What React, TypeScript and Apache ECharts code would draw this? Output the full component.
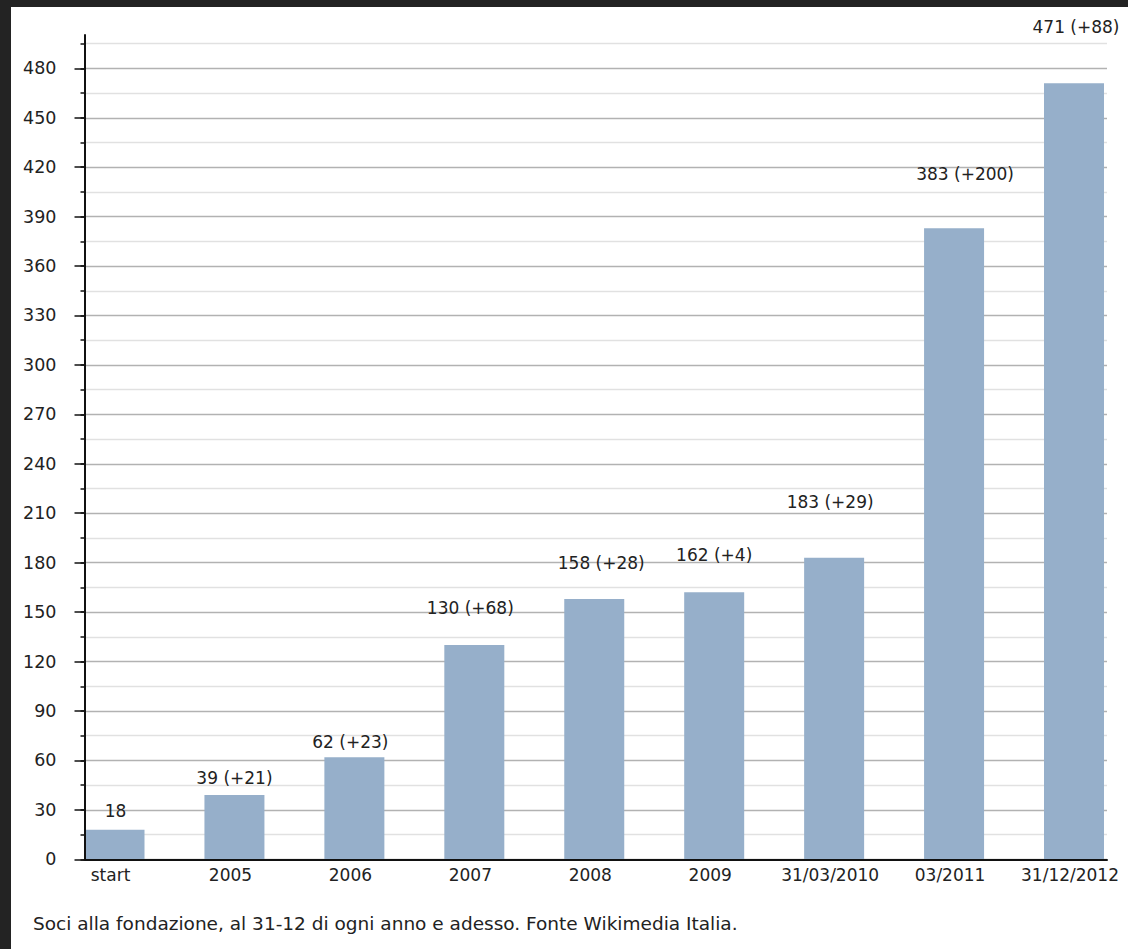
import React, { useEffect, useRef } from 'react';
import * as echarts from 'echarts';

const categories = ['start', '2005', '2006', '2007', '2008', '2009', '31/03/2010', '03/2011', '31/12/2012'];
const members = [18, 39, 62, 130, 158, 162, 183, 383, 471];
const increments: (number | null)[] = [null, 21, 23, 68, 28, 4, 29, 200, 88];
const footerText = 'Soci alla fondazione, al 31-12 di ogni anno e adesso. Fonte Wikimedia Italia.';

// label placement tweaks (pixels), styling only
const labelOffsets: [number, number][] = [
  [1, -5], [0, -4], [-4, -2], [-4, -24], [7, -22], [0, -24], [-4, -42], [11, -41], [2, -43],
];

export default function App() {
  const ref = useRef<HTMLDivElement>(null);
  useEffect(() => {
    document.body.style.margin = '0';
    const chart = echarts.init(ref.current!, null, { renderer: 'svg' });
    const font = 'DejaVu Sans';
    const textColor = '#222';
    const bottom = 89.7;
    const common = { left: 73.5, right: 21, bottom, outerBoundsMode: 'none' };
    const hiddenX = (gi: number) => ({ gridIndex: gi, type: 'value', min: 0, max: 1, show: false });
    const labels = members.map((v, i) => (increments[i] == null ? `${v}` : `${v} (+${increments[i]})`));

    const option: any = {
      animation: false,
      backgroundColor: '#ffffff',
      grid: [
        { ...common, top: 28 },
        { ...common, top: 36.6 },
        { ...common, top: 61.3 },
        { left: 103.5, right: 54, bottom, top: 61.3, outerBoundsMode: 'none' },
      ],
      xAxis: [
        {
          gridIndex: 0, type: 'value', min: 0, max: 1, z: 5,
          axisLine: { show: true, onZero: false, lineStyle: { color: '#111', width: 2 } },
          axisTick: { show: false }, axisLabel: { show: false }, splitLine: { show: false },
        },
        hiddenX(1),
        hiddenX(2),
        {
          gridIndex: 3, type: 'category', data: categories, boundaryGap: false,
          axisLine: { show: false }, axisTick: { show: false }, splitLine: { show: false },
          axisLabel: {
            interval: 0, margin: 7, fontSize: 17, fontFamily: font, color: textColor,
            padding: [0, 8, 0, 0],
          },
        },
      ],
      yAxis: [
        {
          gridIndex: 0, type: 'value', min: 0, max: 1, z: 5,
          axisLine: { show: true, onZero: false, lineStyle: { color: '#111', width: 2 } },
          axisTick: { show: false }, axisLabel: { show: false }, splitLine: { show: false },
        },
        {
          gridIndex: 1, type: 'value', min: 0, max: 495, interval: 15,
          axisLine: { show: false },
          axisTick: { show: true, length: 4, lineStyle: { color: '#111', width: 1.5 } },
          axisLabel: { show: false },
          splitLine: { show: true, lineStyle: { color: ['#b2b2b2', '#e1e1e1'], width: 1.3 } },
        },
        {
          gridIndex: 2, type: 'value', min: 0, max: 480, interval: 30,
          axisLine: { show: false },
          axisTick: { show: true, length: 10, lineStyle: { color: '#111', width: 1.5 } },
          axisLabel: { margin: 28, fontSize: 17.5, fontFamily: font, color: textColor },
          splitLine: { show: false },
        },
        { gridIndex: 3, type: 'value', min: 0, max: 480, show: false },
      ],
      series: [
        {
          type: 'bar',
          xAxisIndex: 3,
          yAxisIndex: 3,
          barWidth: 60,
          clip: false,
          itemStyle: { color: '#96afca' },
          label: {
            show: true, position: 'top', distance: 5, fontSize: 17, fontFamily: font, color: textColor,
            formatter: (p: any) => labels[p.dataIndex],
          },
          data: members.map((v, i) => ({ value: v, label: { offset: labelOffsets[i] } })),
        },
      ],
      graphic: [
        {
          type: 'text', left: 22, top: 907,
          style: { text: footerText, fontSize: 18.5, fontFamily: font, fill: textColor },
        },
      ],
    };
    chart.setOption(option);
    return () => chart.dispose();
  }, []);

  return (
    <div style={{ position: 'relative', width: 1128, height: 949, background: '#232323', overflow: 'hidden' }}>
      <div style={{ position: 'absolute', left: 11, top: 7, width: 1117, height: 942, background: '#fff' }}>
        <div ref={ref} style={{ width: 1117, height: 942 }} />
      </div>
    </div>
  );
}
